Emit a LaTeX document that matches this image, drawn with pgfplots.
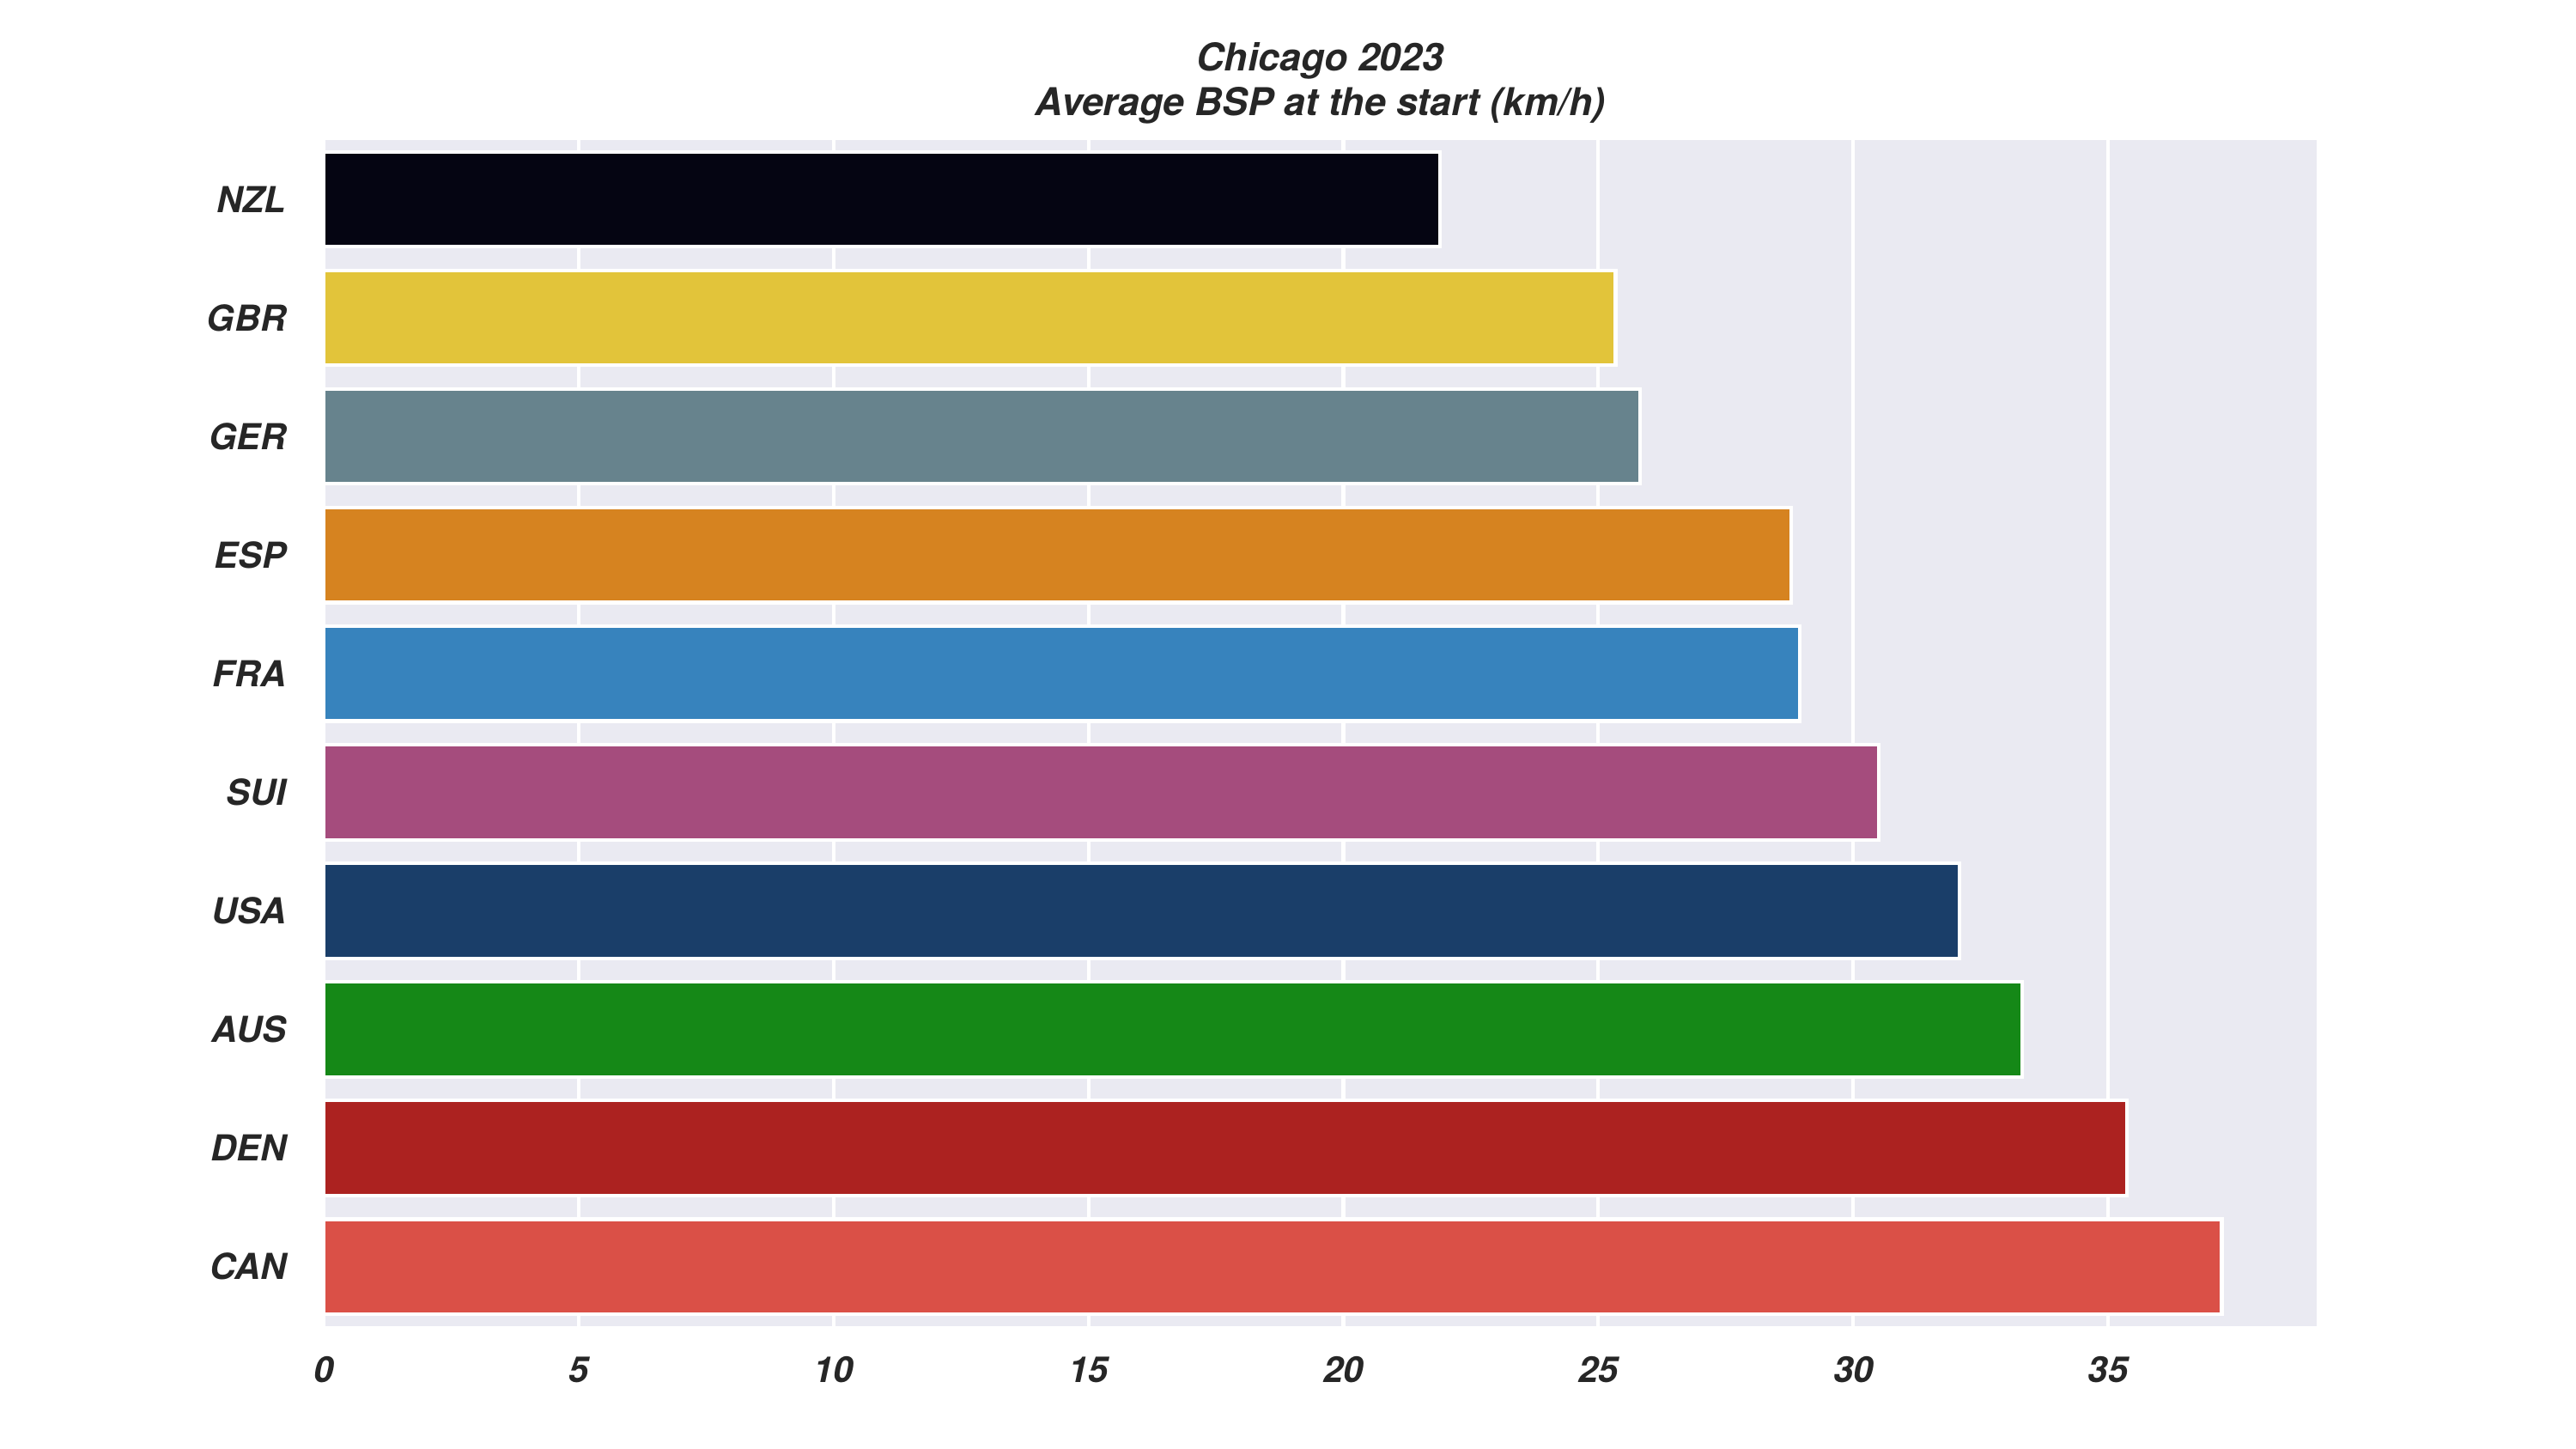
\documentclass[border=0pt]{standalone}
\usepackage{fontspec}
\setmainfont{TeX Gyre Heros}
\usepackage{pgfplots}
\pgfplotsset{compat=1.18}

\definecolor{txt}{HTML}{262626}
\definecolor{bgcol}{HTML}{EAEAF2}
\definecolor{cNZL}{HTML}{050512}
\definecolor{cGBR}{HTML}{E2C43A}
\definecolor{cGER}{HTML}{67838D}
\definecolor{cESP}{HTML}{D68320}
\definecolor{cFRA}{HTML}{3783BD}
\definecolor{cSUI}{HTML}{A54C7D}
\definecolor{cUSA}{HTML}{1A3E69}
\definecolor{cAUS}{HTML}{158817}
\definecolor{cDEN}{HTML}{AC2220}
\definecolor{cCAN}{HTML}{DA5047}

\begin{document}
\begin{tikzpicture}[font=\fontsize{10}{12}\selectfont\bfseries\itshape, text=txt]
\begin{axis}[
  scale only axis,
  width=557pt, height=331.4pt,
  clip=false,
  xbar, bar width=0.8, bar shift=0pt,
  xmin=0, xmax=39.09,
  ymin=-0.5, ymax=9.5, y dir=reverse,
  ytick={0,...,9},
  yticklabels={NZL,GBR,GER,ESP,FRA,SUI,USA,AUS,DEN,CAN},
  xtick={0,5,...,35},
  xmajorgrids,
  grid style={white, line width=1pt},
  axis background/.style={fill=bgcol},
  axis line style={draw=none},
  major tick length=0pt,
  tick label style={font=\fontsize{10}{12}\selectfont\bfseries\itshape, text=txt},
  /pgf/number format/assume math mode=true,
  yticklabel style={anchor=east, inner sep=0pt, xshift=-10.3pt},
  xticklabel style={anchor=north, inner sep=0pt, yshift=-8.4pt},
]
% average boat speed at the start, km/h
\addplot[fill=cNZL, draw=white, line width=1pt] coordinates {(21.90,0)};
\addplot[fill=cGBR, draw=white, line width=1pt] coordinates {(25.34,1)};
\addplot[fill=cGER, draw=white, line width=1pt] coordinates {(25.82,2)};
\addplot[fill=cESP, draw=white, line width=1pt] coordinates {(28.79,3)};
\addplot[fill=cFRA, draw=white, line width=1pt] coordinates {(28.95,4)};
\addplot[fill=cSUI, draw=white, line width=1pt] coordinates {(30.50,5)};
\addplot[fill=cUSA, draw=white, line width=1pt] coordinates {(32.08,6)};
\addplot[fill=cAUS, draw=white, line width=1pt] coordinates {(33.31,7)};
\addplot[fill=cDEN, draw=white, line width=1pt] coordinates {(35.37,8)};
\addplot[fill=cCAN, draw=white, line width=1pt] coordinates {(37.23,9)};

\node[anchor=base, inner sep=0pt, font=\fontsize{10.7}{12}\selectfont\bfseries\itshape]
  at (rel axis cs:0.5,1) [yshift=19.2pt] {Chicago 2023};
\node[anchor=base, inner sep=0pt, font=\fontsize{10.7}{12}\selectfont\bfseries\itshape]
  at (rel axis cs:0.5,1) [yshift=6.7pt] {Average BSP at the start (km/h)};
\end{axis}
\pgfresetboundingbox
\path[use as bounding box] (-90.5pt,-34.3pt) rectangle (629.5pt,370.5pt);
\end{tikzpicture}
\end{document}
